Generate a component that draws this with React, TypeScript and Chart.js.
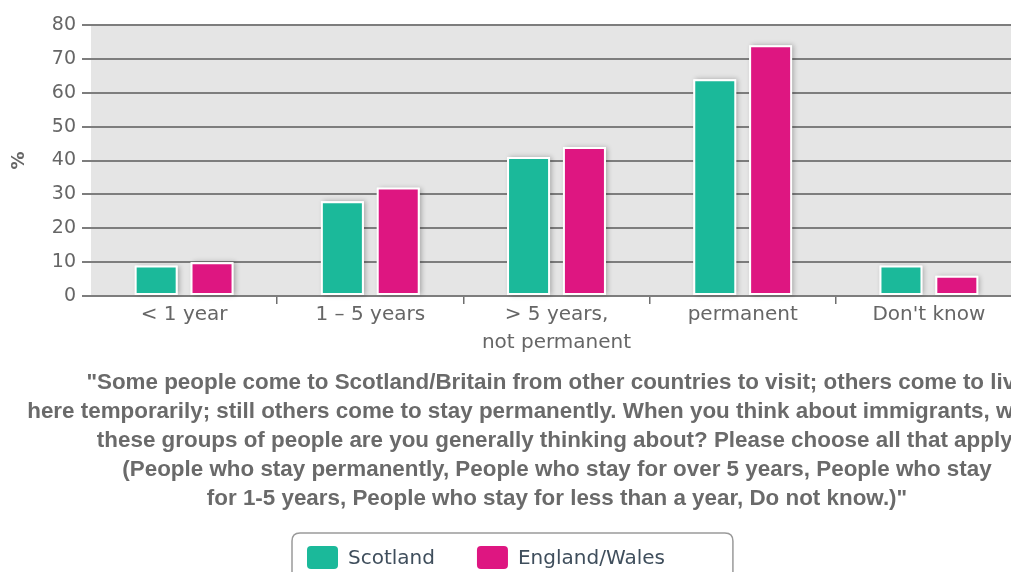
import React, { useEffect, useRef } from "react";
import { Chart, registerables } from "chart.js";

Chart.register(...registerables);

// ---- data ----
const categories: (string | string[])[] = [
  "< 1 year",
  "1 – 5 years",
  ["> 5 years,", "not permanent"],
  "permanent",
  "Don't know",
];
const scotland = [9, 28, 41, 64, 9];
const englandWales = [10, 32, 44, 74, 6];
const seriesNames = ["Scotland", "England/Wales"];
const seriesColors = ["#1bb99a", "#de1681"];
const yMin = 0;
const yMax = 80;
const yStep = 10;
const yAxisTitle = "%";
const titleLines = [
  "\"Some people come to Scotland/Britain from other countries to visit; others come to live",
  "here temporarily; still others come to stay permanently. When you think about immigrants, which of",
  "these groups of people are you generally thinking about? Please choose all that apply.",
  "(People who stay permanently, People who stay for over 5 years, People who stay",
  "for 1-5 years, People who stay for less than a year, Do not know.)\"",
];

const SANS = "'DejaVu Sans', Verdana, sans-serif";
const ARIAL = "'Liberation Sans', Arial, sans-serif";

const plotBackground = {
  id: "plotBackground",
  beforeDraw(chart: any) {
    const { ctx, chartArea } = chart;
    ctx.save();
    ctx.fillStyle = "#e5e5e5";
    ctx.fillRect(chartArea.left, chartArea.top, chartArea.right - chartArea.left, chartArea.bottom - chartArea.top);
    ctx.restore();
  },
};

// centre the title block on the whole canvas width
const titleSpan = {
  id: "titleSpan",
  afterLayout(chart: any) {
    const t = chart.titleBlock;
    if (t) {
      t.left = 0;
      t.right = chart.width;
      t.width = chart.width;
    }
  },
};

const barShadow = {
  id: "barShadow",
  beforeDatasetsDraw(chart: any) {
    const { ctx } = chart;
    chart.data.datasets.forEach((_: any, i: number) => {
      const meta = chart.getDatasetMeta(i);
      meta.data.forEach((bar: any) => {
        const { x, y, base, width } = bar.getProps(["x", "y", "base", "width"], true);
        ctx.save();
        ctx.shadowColor = "rgba(0,0,0,0.28)";
        ctx.shadowBlur = 5;
        ctx.shadowOffsetX = 2;
        ctx.shadowOffsetY = 0;
        ctx.fillStyle = "#ffffff";
        ctx.fillRect(x - width / 2, y, width, base - y);
        ctx.restore();
      });
    });
  },
};

function roundRect(ctx: CanvasRenderingContext2D, x: number, y: number, w: number, h: number, r: number) {
  ctx.beginPath();
  ctx.moveTo(x + r, y);
  ctx.lineTo(x + w - r, y);
  ctx.quadraticCurveTo(x + w, y, x + w, y + r);
  ctx.lineTo(x + w, y + h - r);
  ctx.quadraticCurveTo(x + w, y + h, x + w - r, y + h);
  ctx.lineTo(x + r, y + h);
  ctx.quadraticCurveTo(x, y + h, x, y + h - r);
  ctx.lineTo(x, y + r);
  ctx.quadraticCurveTo(x, y, x + r, y);
  ctx.closePath();
}

const boxLegend = {
  id: "boxLegend",
  afterDraw(chart: any) {
    const { ctx, chartArea } = chart;
    const title = chart.titleBlock;
    const top = (title ? title.bottom : chartArea.bottom + 218) + 20;
    const left = chartArea.left + 201;
    ctx.save();
    ctx.font = `20px ${SANS}`;
    const sw = 31;
    const sh = 23;
    let x = left + 15;
    const items: { x: number; color: string; text: string; tw: number }[] = [];
    chart.data.datasets.forEach((ds: any) => {
      const tw = ctx.measureText(ds.label).width;
      items.push({ x, color: ds.backgroundColor, text: ds.label, tw });
      x += sw + 10 + tw + 42;
    });
    const last = items[items.length - 1];
    const right = last.x + sw + 10 + last.tw + 68;
    roundRect(ctx, left, top, right - left, 52, 8);
    ctx.strokeStyle = "#9a9a9a";
    ctx.lineWidth = 1.5;
    ctx.stroke();
    items.forEach((it) => {
      roundRect(ctx, it.x, top + 13, sw, sh, 4);
      ctx.fillStyle = it.color;
      ctx.fill();
      ctx.fillStyle = "#3f4e5c";
      ctx.textBaseline = "middle";
      ctx.textAlign = "left";
      ctx.fillText(it.text, it.x + sw + 10, top + 13 + sh / 2 + 1);
    });
    ctx.restore();
  },
};

export default function App() {
  const ref = useRef<HTMLCanvasElement | null>(null);

  useEffect(() => {
    if (!ref.current) return;
    const chart = new Chart(ref.current, {
      type: "bar",
      data: {
        labels: categories as any,
        datasets: [
          {
            label: seriesNames[0],
            data: scotland,
            backgroundColor: seriesColors[0],
            borderColor: "#ffffff",
            borderWidth: 2,
            borderSkipped: false,
            categoryPercentage: 0.6,
            barPercentage: 0.77,
          },
          {
            label: seriesNames[1],
            data: englandWales,
            backgroundColor: seriesColors[1],
            borderColor: "#ffffff",
            borderWidth: 2,
            borderSkipped: false,
            categoryPercentage: 0.6,
            barPercentage: 0.77,
          },
        ],
      },
      options: {
        animation: false,
        responsive: false,
        layout: { padding: { left: 51, right: 136, top: 25, bottom: 87 } },
        plugins: {
          legend: { display: false },
          tooltip: { enabled: false },
          title: {
            display: true,
            position: "bottom",
            fullSize: true,
            text: titleLines,
            color: "#6a6a6a",
            font: { family: ARIAL, size: 22.4, weight: "bold", lineHeight: 29 / 22.4 },
            padding: { top: 14, bottom: 0 },
          },
        },
        scales: {
          x: {
            border: { display: false },
            grid: {
              offset: true,
              drawOnChartArea: false,
              drawTicks: true,
              tickLength: 8,
              lineWidth: 1.5,
              color: (c: any) => (c.index === 0 ? "rgba(0,0,0,0)" : "#6f6f6f"),
            },
            ticks: {
              color: "#666666",
              padding: -3,
              font: { family: SANS, size: 20, lineHeight: 1.4 },
              maxRotation: 0,
              autoSkip: false,
            },
          },
          y: {
            min: yMin,
            max: yMax,
            border: { display: false },
            afterFit: (scale: any) => {
              scale.width = 84;
            },
            title: {
              display: true,
              text: yAxisTitle,
              color: "#666666",
              font: { family: SANS, size: 18, weight: "bold", lineHeight: 1.2 },
              padding: { top: 2, bottom: 0 },
            },
            grid: {
              color: "#7d7d7d",
              lineWidth: 2,
              drawTicks: true,
              tickLength: 9,
            },
            ticks: {
              stepSize: yStep,
              color: "#666666",
              padding: 6,
              font: { family: SANS, size: 19 },
            },
          },
        },
      },
      plugins: [plotBackground, titleSpan, barShadow, boxLegend],
    } as any);
    return () => chart.destroy();
  }, []);

  return (
    <div style={{ position: "fixed", left: 0, top: 0, width: 1011, height: 572, overflow: "hidden", background: "#fff" }}>
      <div style={{ position: "absolute", left: -44, top: 0, width: 1202, height: 600 }}>
        <canvas ref={ref} width={1202} height={600} style={{ display: "block" }} />
      </div>
    </div>
  );
}
